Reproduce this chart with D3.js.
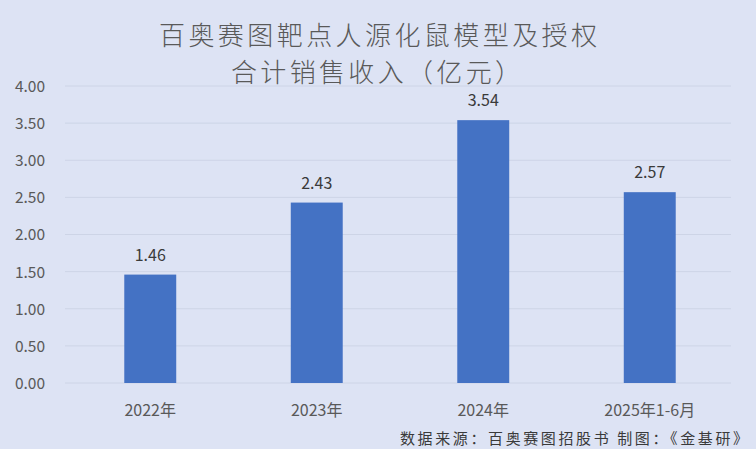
<!DOCTYPE html>
<html>
<head>
<meta charset="utf-8">
<script src="https://cdn.jsdelivr.net/npm/d3@7"></script>
<style>
  body { margin: 0; background: #dde3f4; }
  svg { display: block; }
  text { font-family: "Noto Sans CJK SC", "Noto Sans", sans-serif; }
</style>
</head>
<body>
<script>
// data
const categories = ["2022年", "2023年", "2024年", "2025年1-6月"];
const revenue = [1.46, 2.43, 3.54, 2.57];
const yTicks = [0, 0.5, 1, 1.5, 2, 2.5, 3, 3.5, 4];
const titleLines = ["百奥赛图靶点人源化鼠模型及授权", "合计销售收入（亿元）"];
const sourceNote = "数据来源：百奥赛图招股书 制图：《金基研》";

const W = 756, H = 449;

let svg = d3.select("body")
  .append("svg")
    .attr("width", W)
    .attr("height", H);

svg.append("rect")
  .attr("width", W)
  .attr("height", H)
  .attr("fill", "#dde3f4");

let x = d3.scaleBand()
  .domain(categories)
  .range([67, 733])
  .paddingInner(0.688)
  .paddingOuter(0.344);

let y = d3.scaleLinear()
  .domain([0, 4])
  .range([383, 86]);

// gridlines
svg.selectAll("line.grid").data(yTicks)
  .enter()
    .append("line")
    .attr("class", "grid")
    .attr("x1", 65)
    .attr("x2", 731)
    .attr("y1", d => y(d))
    .attr("y2", d => y(d))
    .attr("stroke", "#cdd4e6")
    .attr("stroke-width", 1);

// y axis labels
let yAxis = d3.axisLeft(y)
  .tickValues(yTicks)
  .tickFormat(d3.format(".2f"))
  .tickSize(0)
  .tickPadding(0);

let yg = svg.append("g")
  .attr("transform", "translate(45,0)")
  .call(yAxis);
yg.select(".domain").remove();
yg.selectAll("text")
  .attr("font-size", 15.5)
  .attr("fill", "#595959")
  .attr("dy", "0.35em");

// bars
svg.selectAll("rect.bar").data(revenue)
  .enter()
    .append("rect")
    .attr("class", "bar")
    .attr("x", (d, i) => x(categories[i]))
    .attr("width", x.bandwidth())
    .attr("y", d => y(d))
    .attr("height", d => y(0) - y(d))
    .attr("fill", "#4472c4");

// value labels
svg.selectAll("text.val").data(revenue)
  .enter()
    .append("text")
    .attr("class", "val")
    .attr("x", (d, i) => x(categories[i]) + x.bandwidth() / 2)
    .attr("y", d => y(d) - 14)
    .attr("text-anchor", "middle")
    .attr("font-size", 16)
    .attr("fill", "#3a3a3a")
    .text(d => d.toFixed(2));

// x axis labels
let xAxis = d3.axisBottom(x).tickSize(0).tickPadding(0);
let xg = svg.append("g")
  .attr("transform", "translate(0,410)")
  .call(xAxis);
xg.select(".domain").remove();
xg.selectAll("text")
  .attr("font-size", 16)
  .attr("fill", "#595959")
  .attr("dy", "0.35em");

// title, stretched to the reference width
svg.selectAll("text.title").data(titleLines)
  .enter()
    .append("text")
    .attr("class", "title")
    .attr("x", (d, i) => i == 0 ? 159 : 231)
    .attr("y", (d, i) => 45 + i * 37)
    .attr("font-size", 26)
    .attr("font-weight", 300)
    .attr("textLength", (d, i) => i == 0 ? 438 : 290)
    .attr("lengthAdjust", "spacing")
    .attr("fill", "#595959")
    .text(d => d);

// source
svg.append("text")
  .attr("x", 400)
  .attr("y", 444)
  .attr("font-size", 15)
  .attr("textLength", 348)
  .attr("lengthAdjust", "spacing")
  .attr("fill", "#3a3a3a")
  .text(sourceNote);
</script>
</body>
</html>
